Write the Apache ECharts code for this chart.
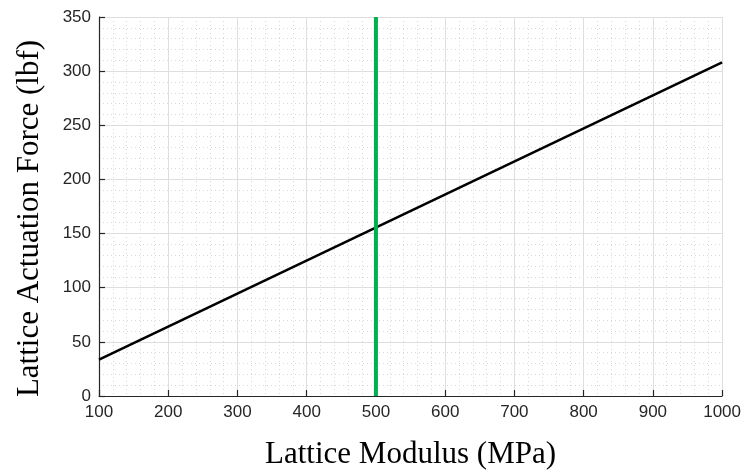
<!DOCTYPE html>
<html lang="en">
<head>
    <meta charset="UTF-8">
    <script src="https://cdn.jsdelivr.net/npm/echarts@6/dist/echarts.min.js"></script>
    <style>
        html, body { margin: 0; padding: 0; background: #fff; }
        #chart { width: 744px; height: 475px; }
    </style>
</head>
<body>
    <div id="chart"></div>
    <script>
        // data
        const modulus = [100, 1000]
        const force = [33.5, 308]
        const markerX = [500, 500]
        const markerY = [0, 350]

        const forceLine = modulus.map((m, i) => [m, force[i]])
        const marker = markerX.map((m, i) => [m, markerY[i]])

        const chart = echarts.init(document.getElementById('chart'))

        const axisCommon = {
            axisLine: { show: true, onZero: false, lineStyle: { color: '#262626', width: 1.2 } },
            axisTick: { show: true, inside: true, length: 6, lineStyle: { color: '#262626', width: 1.2 } },
            axisLabel: { color: '#262626', fontSize: 17, fontFamily: 'Liberation Sans, Arial', formatter: v => String(v) },
            splitLine: { show: true, lineStyle: { color: '#dedede', width: 1 } },
            minorTick: { show: false, splitNumber: 5 },
            minorSplitLine: { show: true, lineStyle: { color: '#d8d8d8', width: 1, type: [1, 3] } },
            nameTextStyle: { color: '#000', fontSize: 31, fontFamily: 'Liberation Serif, Times New Roman' }
        }

        chart.setOption({
            animation: false,
            grid: { left: 99, right: 21, top: 17, bottom: 77 },
            xAxis: Object.assign({}, axisCommon, {
                type: 'value',
                min: 100, max: 1000, interval: 100,
                name: 'Lattice Modulus (MPa)',
                nameLocation: 'middle',
                nameGap: 43,
                axisLabel: Object.assign({}, axisCommon.axisLabel, { margin: 8 })
            }),
            yAxis: Object.assign({}, axisCommon, {
                type: 'value',
                min: 0, max: 350, interval: 50,
                name: 'Lattice Actuation Force (lbf)',
                nameLocation: 'middle',
                nameGap: 54,
                nameTextStyle: Object.assign({}, axisCommon.nameTextStyle, { padding: [0, 24, 0, 0] }),
                axisLabel: Object.assign({}, axisCommon.axisLabel, { margin: 8 })
            }),
            series: [
                {
                    type: 'line',
                    data: forceLine,
                    showSymbol: false,
                    lineStyle: { color: '#000', width: 2.5 },
                    z: 3
                },
                {
                    type: 'line',
                    data: marker,
                    showSymbol: false,
                    lineStyle: { color: '#00b04f', width: 4 },
                    z: 4
                }
            ]
        })
    </script>
</body>
</html>
